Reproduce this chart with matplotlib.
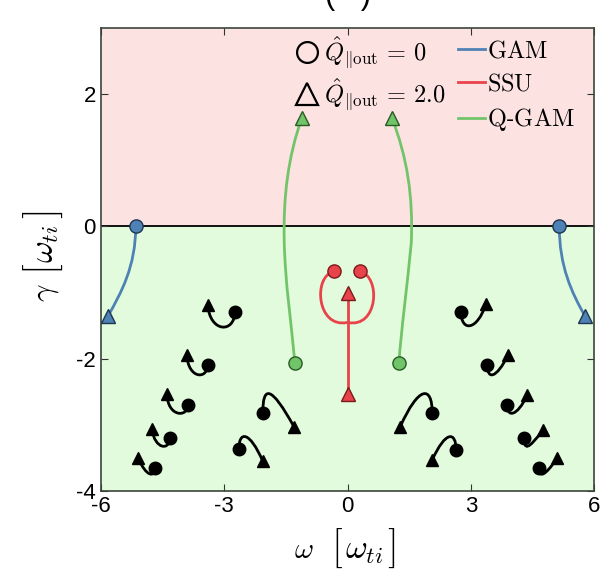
import matplotlib
matplotlib.use("Agg")
import matplotlib.pyplot as plt
from matplotlib.path import Path
from matplotlib.patches import PathPatch
from matplotlib.lines import Line2D

plt.rcParams["mathtext.fontset"] = "cm"
plt.rcParams["font.family"] = ["Liberation Sans", "DejaVu Sans"]
plt.rcParams["axes.unicode_minus"] = False

# colored branches: cubic control points (start, c1, c2, end [, c3, c4, end2])
gam_left = [(-5.15, 0.0), (-5.15, -0.6), (-5.5, -1.0), (-5.83, -1.36)]
gam_right = [(5.15, 0.0), (5.15, -0.6), (5.45, -1.0), (5.78, -1.36)]
qgam_left = [(-1.11, 1.64), (-1.45, 1.05), (-1.56, 0.45), (-1.54, -0.2),
             (-1.52, -0.85), (-1.36, -1.5), (-1.28, -2.06)]
qgam_right = [(1.08, 1.64), (1.45, 1.05), (1.60, 0.45), (1.55, -0.25),
              (1.45, -0.9), (1.30, -1.6), (1.25, -2.06)]
ssu_left = [(-0.33, -0.68), (-0.85, -0.75), (-0.75, -1.55), (0.0, -1.45)]
ssu_right = [(0.30, -0.68), (0.82, -0.75), (0.75, -1.55), (0.0, -1.45)]
ssu_stem_y = [-1.01, -2.53]

# start (circle) / end (triangle) points of colored branches
gam_circ_x = [-5.15, 5.15]
gam_circ_y = [0.0, 0.0]
gam_tri_x = [-5.83, 5.78]
gam_tri_y = [-1.36, -1.36]
qgam_circ_x = [-1.28, 1.25]
qgam_circ_y = [-2.06, -2.06]
qgam_tri_x = [-1.11, 1.08]
qgam_tri_y = [1.64, 1.64]
ssu_circ_x = [-0.33, 0.30]
ssu_circ_y = [-0.68, -0.68]
ssu_tri_x = [0.0, 0.0]
ssu_tri_y = [-1.01, -2.53]

# black hooks: circle, triangle, bend point
hook_cx = [-2.74, -3.40, -3.88, -4.32, -4.68, -2.06, -2.64,
           2.76, 3.40, 3.88, 4.30, 4.66, 2.06, 2.64]
hook_cy = [-1.29, -2.09, -2.70, -3.20, -3.65, -2.82, -3.36,
           -1.29, -2.09, -2.70, -3.20, -3.65, -2.82, -3.38]
hook_tx = [-3.40, -3.91, -4.39, -4.76, -5.09, -1.30, -2.06,
           3.37, 3.91, 4.37, 4.76, 5.10, 1.28, 2.06]
hook_ty = [-1.18, -1.94, -2.53, -3.06, -3.50, -3.03, -3.55,
           -1.17, -1.94, -2.55, -3.07, -3.50, -3.03, -3.53]
hook_bx = [-3.05, -3.64, -4.13, -4.51, -4.81, -1.89, -2.47,
           2.98, 3.54, 4.03, 4.39, 4.76, 1.84, 2.47]
hook_by = [-1.52, -2.24, -2.82, -3.32, -3.74, -2.53, -3.18,
           -1.50, -2.24, -2.82, -3.32, -3.74, -2.53, -3.18]

blue, blue_e = "#4e82b4", "#1f3550"
red, red_e = "#e8434a", "#7a1a1a"
green, green_e = "#72c46a", "#2a5a25"


def bezier(ax, pts, color):
    codes = [Path.MOVETO] + [Path.CURVE4] * (len(pts) - 1)
    ax.add_patch(PathPatch(Path(pts, codes), fc="none", ec=color, lw=2, zorder=3))


fig = plt.figure(figsize=(6.07, 5.73), dpi=100)
ax = fig.add_axes([0.166, 0.143, 0.813, 0.808])

ax.axhspan(0, 3, color="#fde2e2", zorder=0)
ax.axhspan(-4, 0, color="#e2fbdc", zorder=0)
ax.axhline(0, color="black", lw=1.3, zorder=1)

for pts in (gam_left, gam_right):
    bezier(ax, pts, blue)
for pts in (qgam_left, qgam_right):
    bezier(ax, pts, green)
for pts in (ssu_left, ssu_right):
    bezier(ax, pts, red)
ax.plot([0, 0], ssu_stem_y, color=red, lw=2, zorder=3)

for i in range(len(hook_cx)):
    cx, cy, tx, ty = hook_cx[i], hook_cy[i], hook_tx[i], hook_ty[i]
    k = (8 * hook_by[i] - cy - ty) / 6
    c2x = (8 * hook_bx[i] - 4 * cx - tx) / 3
    bezier(ax, [(cx, cy), (cx, k), (c2x, k), (tx, ty)], "black")
ax.plot(hook_cx, hook_cy, "o", color="black", ms=9, zorder=4)
ax.plot(hook_tx, hook_ty, "^", color="black", ms=9, zorder=4)

for xs, ys, fc, ec in ((gam_circ_x, gam_circ_y, blue, blue_e),
                       (qgam_circ_x, qgam_circ_y, green, green_e),
                       (ssu_circ_x, ssu_circ_y, red, red_e)):
    ax.plot(xs, ys, "o", mfc=fc, mec=ec, mew=1, ms=9.5, ls="none", zorder=5)
for xs, ys, fc, ec in ((gam_tri_x, gam_tri_y, blue, blue_e),
                       (qgam_tri_x, qgam_tri_y, green, green_e),
                       (ssu_tri_x, ssu_tri_y, red, red_e)):
    ax.plot(xs, ys, "^", mfc=fc, mec=ec, mew=1, ms=9.5, ls="none", zorder=5)

ax.set_xlim(-6, 6)
ax.set_ylim(-4, 3)
ax.set_xticks([-6, -3, 0, 3, 6])
ax.set_yticks([-4, -2, 0, 2])
ax.tick_params(direction="in", top=True, right=True, labelsize=16, length=5, color="#333333")
for s in ax.spines.values():
    s.set_color("#3a463a")
    s.set_linewidth(1.2)

# axis labels built from pieces so the brackets can be tall
xl = [(0.500, r"$\omega$", 21), (0.5544, r"$[$", 28), (0.599, r"$\omega_{ti}$", 24), (0.6442, r"$]$", 28)]
for x, s, fs in xl:
    fig.text(x, 0.0262, s, fontsize=fs, ha="center", va="baseline")
yl = [(0.4895, r"$\gamma$", 22), (0.5305, r"$[$", 28), (0.575, r"$\omega_{ti}$", 24), (0.6257, r"$]$", 28)]
for y, s, fs in yl:
    fig.text(0.0873, y, s, fontsize=fs, ha="center", va="baseline",
             rotation=90, rotation_mode="anchor")

# legend: marker meaning (left column) and branch colours (right column)
h_mark = [Line2D([], [], ls="none", marker="o", mfc="none", mec="black", ms=15, mew=1.6),
          Line2D([], [], ls="none", marker="^", mfc="none", mec="black", ms=16, mew=1.6)]
l_mark = [r"$\hat{Q}_{\|\mathrm{out}}\,=\,0$", r"$\hat{Q}_{\|\mathrm{out}}\,=\,2.0$"]
h_line = [Line2D([], [], color=c, lw=2) for c in (blue, red, green)]
l_line = [r"$\mathrm{GAM}$", r"$\mathrm{SSU}$", r"$\mathrm{Q}$-$\mathrm{GAM}$"]

leg1 = ax.legend(h_mark, l_mark, loc="upper left", bbox_to_anchor=(0.388, 0.987),
                 frameon=False, fontsize=17.5, handlelength=1.2, handletextpad=0.1,
                 labelspacing=0.2, borderpad=0, borderaxespad=0)
ax.add_artist(leg1)
ax.legend(h_line, l_line, loc="upper left", bbox_to_anchor=(0.724, 0.974),
          frameon=False, fontsize=17.5, handlelength=1.1, handletextpad=0.1,
          labelspacing=0.45, borderpad=0, borderaxespad=0)

fig.text(0.5725, 0.981, "(   )", fontsize=22, ha="center", va="bottom")

fig.savefig("out.png", dpi=100)
